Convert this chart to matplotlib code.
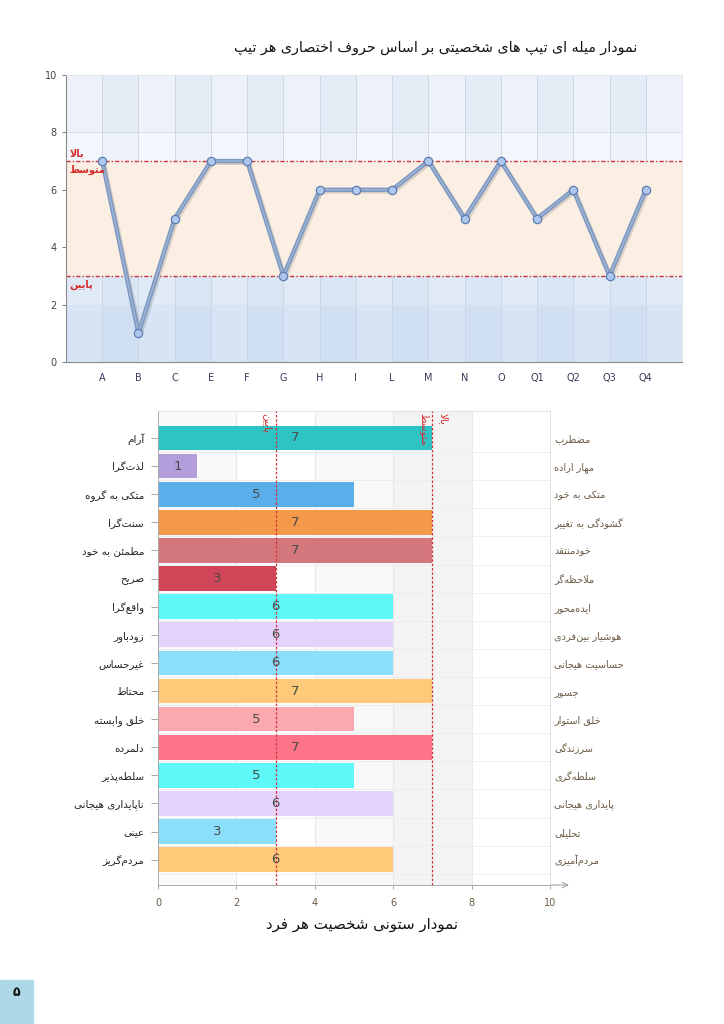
import matplotlib
matplotlib.use("Agg")
import matplotlib.pyplot as plt
import matplotlib.patheffects as pe
from matplotlib.patches import Rectangle

# ---------------- data ----------------
top_categories = ["A", "B", "C", "E", "F", "G", "H", "I", "L", "M", "N", "O", "Q1", "Q2", "Q3", "Q4"]
top_values = [7, 1, 5, 7, 7, 3, 6, 6, 6, 7, 5, 7, 5, 6, 3, 6]
top_title = "نمودار میله ای تیپ های شخصیتی بر اساس حروف اختصاری هر تیپ"
level_high = 7
level_low = 3
label_high = "بالا"
label_mid = "متوسط"
label_low = "پایین"

left_labels = ["آرام", "لذت\u200cگرا", "متکی به گروه", "سنت\u200cگرا", "مطمئن به خود", "صریح",
               "واقع\u200cگرا", "زودباور", "غیرحساس", "محتاط", "خلق وابسته", "دلمرده",
               "سلطه\u200cپذیر", "ناپایداری هیجانی", "عینی", "مردم\u200cگریز"]
right_labels = ["مضطرب", "مهار اراده", "متکی به خود", "گشودگی به تغییر", "خودمنتقد", "ملاحظه\u200cگر",
                "ایده\u200cمحور", "هوشیار بین\u200cفردی", "حساسیت هیجانی", "جسور", "خلق استوار", "سرزندگی",
                "سلطه\u200cگری", "پایداری هیجانی", "تحلیلی", "مردم\u200cآمیزی"]
bar_values = [7, 1, 5, 7, 7, 3, 6, 6, 6, 7, 5, 7, 5, 6, 3, 6]
bar_colors = ["#2ec4c6", "#b39ddb", "#5aaeea", "#f4994a", "#d4777c", "#d04558", "#5ef8f8", "#e4d2fb",
              "#8adffb", "#ffc97a", "#fca8b0", "#fd7488", "#5ef8f8", "#e4d2fb", "#8adffb", "#ffc97a"]
bottom_title = "نمودار ستونی شخصیت هر فرد"
page_number = "۵"

# ---------------- minimal Arabic/Persian shaping ----------------
FORMS = {
    'ا': ('\uFE8D', '\uFE8E'), 'آ': ('\uFE81', '\uFE82'), 'د': ('\uFEA9', '\uFEAA'),
    'ذ': ('\uFEAB', '\uFEAC'), 'ر': ('\uFEAD', '\uFEAE'), 'ز': ('\uFEAF', '\uFEB0'),
    'ژ': ('\uFB8A', '\uFB8B'), 'و': ('\uFEED', '\uFEEE'),
    'ب': ('\uFE8F', '\uFE90', '\uFE91', '\uFE92'), 'پ': ('\uFB56', '\uFB57', '\uFB58', '\uFB59'),
    'ت': ('\uFE95', '\uFE96', '\uFE97', '\uFE98'), 'ث': ('\uFE99', '\uFE9A', '\uFE9B', '\uFE9C'),
    'ج': ('\uFE9D', '\uFE9E', '\uFE9F', '\uFEA0'), 'چ': ('\uFB7A', '\uFB7B', '\uFB7C', '\uFB7D'),
    'ح': ('\uFEA1', '\uFEA2', '\uFEA3', '\uFEA4'), 'خ': ('\uFEA5', '\uFEA6', '\uFEA7', '\uFEA8'),
    'س': ('\uFEB1', '\uFEB2', '\uFEB3', '\uFEB4'), 'ش': ('\uFEB5', '\uFEB6', '\uFEB7', '\uFEB8'),
    'ص': ('\uFEB9', '\uFEBA', '\uFEBB', '\uFEBC'), 'ض': ('\uFEBD', '\uFEBE', '\uFEBF', '\uFEC0'),
    'ط': ('\uFEC1', '\uFEC2', '\uFEC3', '\uFEC4'), 'ظ': ('\uFEC5', '\uFEC6', '\uFEC7', '\uFEC8'),
    'ع': ('\uFEC9', '\uFECA', '\uFECB', '\uFECC'), 'غ': ('\uFECD', '\uFECE', '\uFECF', '\uFED0'),
    'ف': ('\uFED1', '\uFED2', '\uFED3', '\uFED4'), 'ق': ('\uFED5', '\uFED6', '\uFED7', '\uFED8'),
    'ک': ('\uFB8E', '\uFB8F', '\uFB90', '\uFB91'), 'گ': ('\uFB92', '\uFB93', '\uFB94', '\uFB95'),
    'ل': ('\uFEDD', '\uFEDE', '\uFEDF', '\uFEE0'), 'م': ('\uFEE1', '\uFEE2', '\uFEE3', '\uFEE4'),
    'ن': ('\uFEE5', '\uFEE6', '\uFEE7', '\uFEE8'), 'ه': ('\uFEE9', '\uFEEA', '\uFEEB', '\uFEEC'),
    'ی': ('\uFBFC', '\uFBFD', '\uFBFE', '\uFBFF'), 'ئ': ('\uFE89', '\uFE8A', '\uFE8B', '\uFE8C'),
}
LAM_ALEF = {'ا': ('\uFEFB', '\uFEFC'), 'آ': ('\uFEF5', '\uFEF6')}


def _jt(c):
    if c in FORMS:
        return 'D' if len(FORMS[c]) == 4 else 'R'
    return 'U'


def fa(s):
    chars = list(s)
    n = len(chars)
    res = []
    i = 0
    while i < n:
        c = chars[i]
        prev_joins = i > 0 and _jt(chars[i - 1]) == 'D'
        if c == 'ل' and i + 1 < n and chars[i + 1] in LAM_ALEF:
            lig = LAM_ALEF[chars[i + 1]]
            res.append(lig[1] if prev_joins else lig[0])
            i += 2
            continue
        nxt = chars[i + 1] if i + 1 < n else None
        if c in FORMS:
            f = FORMS[c]
            next_joins = nxt is not None and _jt(nxt) in ('D', 'R')
            if len(f) == 2:
                res.append(f[1] if prev_joins else f[0])
            else:
                if prev_joins and next_joins:
                    res.append(f[3])
                elif prev_joins:
                    res.append(f[1])
                elif next_joins:
                    res.append(f[2])
                else:
                    res.append(f[0])
        elif c == '\u200c':
            pass
        else:
            res.append(c)
        i += 1
    return ''.join(reversed(res))


plt.rcParams['font.family'] = ['DejaVu Sans']

W, H = 724, 1024
fig = plt.figure(figsize=(W / 100, H / 100), dpi=100)

# ---------------- top chart ----------------
ax1 = fig.add_axes([66 / W, 1 - 362 / H, (682 - 66) / W, (362 - 75) / H])
xs = list(range(1, len(top_categories) + 1))
ax1.set_xlim(0, len(top_categories) + 1)
ax1.set_ylim(0, 10)
ax1.set_facecolor('#eaf0fa')
ax1.axhspan(0, 2, color='#d6e4f6', zorder=0)
ax1.axhspan(2, 3, color='#e1ebf8', zorder=0)
ax1.axhspan(7, 8, color='#f3f7fd', zorder=0)
ax1.axhspan(8, 10, color='#ecf1fa', zorder=0)
for k in range(1, len(top_categories) + 1, 2):
    ax1.axvspan(k, k + 1, color='#5070a0', alpha=0.035, zorder=0.5, lw=0)
for k in xs:
    ax1.axvline(k, color='#c8d2e2', lw=0.6, zorder=0.6)
for yv in [2, 4, 6, 8]:
    ax1.axhline(yv, color='#d5dde9', lw=0.6, zorder=0.6)
ax1.axhspan(3, 7, color='#fbefe4', zorder=0.8, lw=0)
ax1.axhline(level_high, color='#d0313a', lw=1.0, ls=(0, (3, 1.5, 1, 1.5)), zorder=2)
ax1.axhline(level_low, color='#d0313a', lw=1.0, ls=(0, (3, 1.5, 1, 1.5)), zorder=2)
ax1.plot(xs, top_values, color='#7e98bf', lw=3.2, zorder=3, solid_joinstyle='round',
         path_effects=[pe.SimpleLineShadow(offset=(1.2, -1.2), alpha=0.18, shadow_color='#404040'),
                       pe.Normal()])
ax1.plot(xs, top_values, color='#9fb6d8', lw=1.0, zorder=3.2, solid_joinstyle='round')
ax1.plot(xs, top_values, ls='none', marker='o', ms=6, mfc='#adc7ef', mec='#5f7cb0', mew=0.9, zorder=4)
ax1.text(0.1, level_high + 0.12, fa(label_high), color='#d52b2b', fontsize=7, fontweight='bold',
         ha='left', va='bottom', zorder=5)
ax1.text(0.1, level_high - 0.12, fa(label_mid), color='#d52b2b', fontsize=7, fontweight='bold',
         ha='left', va='top', zorder=5)
ax1.text(0.1, level_low - 0.12, fa(label_low), color='#d52b2b', fontsize=7, fontweight='bold',
         ha='left', va='top', zorder=5)
ax1.set_xticks(xs)
ax1.set_xticklabels(top_categories)
ax1.set_yticks([0, 2, 4, 6, 8, 10])
ax1.tick_params(axis='both', labelsize=7, colors='#666666', length=3, width=0.6)
ax1.tick_params(axis='x', length=0, pad=8, labelcolor='#3a3a5a')
ax1.tick_params(axis='y', labelcolor='#444444')
for side in ['top', 'right']:
    ax1.spines[side].set_color('#dfe5ee')
    ax1.spines[side].set_linewidth(0.6)
for side in ['left', 'bottom']:
    ax1.spines[side].set_color('#8a8a8a')
    ax1.spines[side].set_linewidth(0.8)
fig.text(637 / W, 1 - 48 / H, fa(top_title), fontsize=10.3, ha='right', va='center', color='#111111')

# ---------------- bottom chart ----------------
ax2 = fig.add_axes([158 / W, 1 - 885 / H, (550 - 158) / W, (885 - 411) / H])
ys = list(range(len(left_labels)))
ax2.set_xlim(0, 10)
ax2.set_ylim(len(left_labels) - 0.1, -0.96)
ax2.axvspan(0, 2, color='#fafafa', zorder=0, lw=0)
ax2.axvspan(4, 6, color='#f8f8f8', zorder=0, lw=0)
ax2.axvspan(6, 8, color='#f3f3f3', zorder=0, lw=0)
for xv in [2, 4, 6, 8]:
    ax2.axvline(xv, color='#e4e4e4', lw=0.6, zorder=0.5)
for yv in ys:
    ax2.axhline(yv + 0.5, color='#ececec', lw=0.6, zorder=0.5)
bars = ax2.barh(ys, bar_values, height=0.88, color=bar_colors, zorder=2)
ax2.bar_label(bars, labels=[str(v) for v in bar_values], label_type='center', fontsize=9.5,
              color='#4a4a4a', zorder=4)
ax2.axvline(level_low, color='#d0313a', lw=0.9, ls=(0, (2, 1.5)), zorder=3)
ax2.axvline(level_high, color='#d0313a', lw=0.9, ls=(0, (2, 1.5)), zorder=3)
ax2.text(level_low - 0.08, -0.9, fa(label_low), rotation=270, color='#d52b2b', fontsize=7.5,
         ha='right', va='top', zorder=5)
ax2.text(level_high - 0.08, -0.9, fa(label_mid), rotation=270, color='#d52b2b', fontsize=7.5,
         ha='right', va='top', zorder=5)
ax2.text(level_high + 0.15, -0.9, fa(label_high), rotation=270, color='#d52b2b', fontsize=7.5,
         ha='left', va='top', zorder=5)
ax2.set_yticks(ys)
ax2.set_yticklabels([fa(s) for s in left_labels])
ax2.set_xticks([0, 2, 4, 6, 8, 10])
ax2.tick_params(axis='y', labelsize=7.5, colors='#999999', labelcolor='#222222', length=5, width=0.6, pad=5)
ax2.tick_params(axis='x', labelsize=7, colors='#999999', labelcolor='#6b5a44', length=3, width=0.6, pad=6)
for side in ['top', 'right']:
    ax2.spines[side].set_color('#dddddd')
    ax2.spines[side].set_linewidth(0.6)
for side in ['left', 'bottom']:
    ax2.spines[side].set_color('#aaaaaa')
    ax2.spines[side].set_linewidth(0.7)
ax2.annotate('', xy=(1.055, 0), xytext=(0.995, 0), xycoords='axes fraction',
             arrowprops=dict(arrowstyle='->', color='#999999', lw=0.7))
ax2r = ax2.twinx()
ax2r.set_ylim(ax2.get_ylim())
ax2r.set_yticks(ys)
ax2r.set_yticklabels([fa(s) for s in right_labels])
ax2r.tick_params(axis='y', labelsize=7, labelcolor='#6b5a44', length=0, pad=3)
for side in ['top', 'right', 'left', 'bottom']:
    ax2r.spines[side].set_visible(False)
fig.text(362 / W, 1 - 925 / H, fa(bottom_title), fontsize=10.8, ha='center', va='center', color='#111111')

# ---------------- page number ----------------
fig.patches.append(Rectangle((0, 0), 33 / W, 44 / H, transform=fig.transFigure, color='#add8e6', zorder=0))
fig.text(16 / W, 1 - 992 / H, page_number, fontsize=9, fontweight='bold', ha='center', va='center',
         color='#111111')

fig.savefig('out.png', dpi=100)
